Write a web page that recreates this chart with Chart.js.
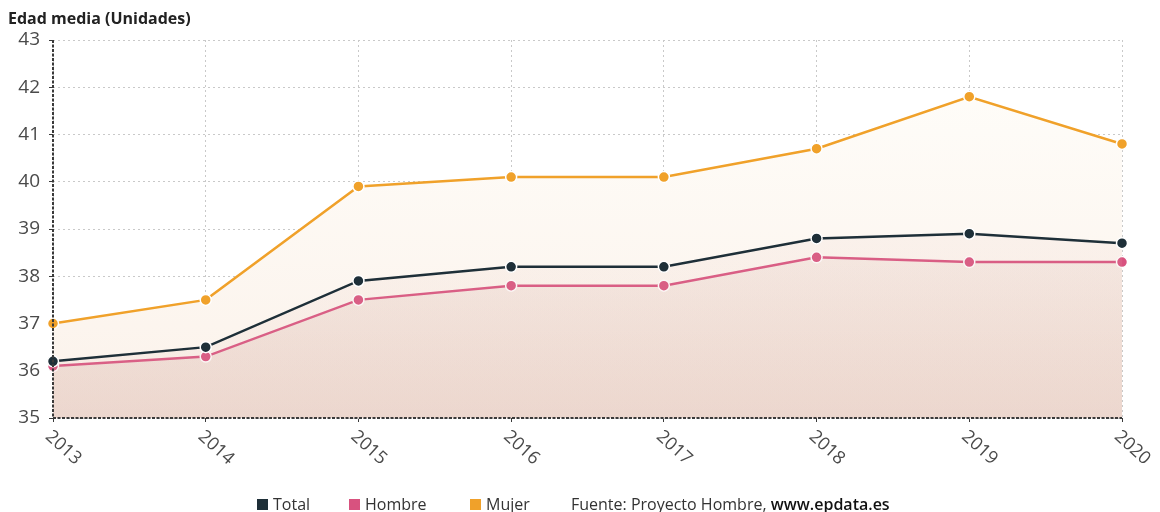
<!DOCTYPE html>
<html lang="es">
<head>
<meta charset="utf-8">
<title>Edad media (Unidades)</title>
<script src="https://cdn.jsdelivr.net/npm/chart.js@4/dist/chart.umd.min.js"></script>
<style>
  html, body { margin: 0; padding: 0; background: #fff; }
  body { width: 1160px; height: 512px; position: relative; overflow: hidden;
         font-family: "Open Sans", "DejaVu Sans", sans-serif; }
  #title { position: absolute; left: 8px; top: 7px; font-size: 16px; font-weight: 700; color: #222; }
  #wrap { position: absolute; left: 0; top: 0; width: 1160px; height: 512px; }
  #legend { position: absolute; top: 493px; left: 0; width: 1160px; height: 22px;
            font-size: 16px; color: #333; white-space: nowrap; }
  #legend .item { position: absolute; top: 0; display: flex; align-items: center; height: 22px; }
  #legend .sw { width: 11px; height: 11px; margin-right: 5px; }
  #legend b { font-weight: 600; color: #111; }
</style>
</head>
<body>
<div id="wrap"><canvas id="chart" width="1160" height="512"></canvas></div>
<div id="title">Edad media (Unidades)</div>
<div id="legend"></div>
<script>
// Average age of people in treatment, by year
const years = ['2013', '2014', '2015', '2016', '2017', '2018', '2019', '2020'];
const total  = [36.2, 36.5, 37.9, 38.2, 38.2, 38.8, 38.9, 38.7];
const hombre = [36.1, 36.3, 37.5, 37.8, 37.8, 38.4, 38.3, 38.3];
const mujer  = [37.0, 37.5, 39.9, 40.1, 40.1, 40.7, 41.8, 40.8];
const yTicks = [35, 36, 37, 38, 39, 40, 41, 42, 43];

const COLORS = { total: '#1e2f38', hombre: '#d8527f', mujer: '#f0a12a' };

// Layered washes under each series; they stack into a warmer tone near the base
function wash(stops) {
  return ctx => {
    const area = ctx.chart.chartArea;
    if (!area) return 'rgba(0,0,0,0)';
    const g = ctx.chart.ctx.createLinearGradient(0, area.top, 0, area.bottom);
    stops.forEach(([p, c]) => g.addColorStop(p, c));
    return g;
  };
}
const mujerWash  = wash([[0, '#fffefb'], [1, '#fbf2ea']]);
const totalWash  = wash([[0, 'rgba(225,185,175,0.08)'], [1, 'rgba(225,185,175,0.14)']]);
const hombreWash = wash([[0, 'rgba(215,180,170,0.0)'], [0.5, 'rgba(215,180,170,0.12)'], [1, 'rgba(215,180,170,0.36)']]);

// Axis lines and rotated year labels
const axisDecor = {
  id: 'axisDecor',
  afterDatasetsDraw(chart) {
    const { ctx, chartArea: a, scales: { x } } = chart;
    ctx.save();
    ctx.strokeStyle = '#3a3a3a';
    ctx.lineWidth = 2;
    ctx.setLineDash([3, 1.5]);
    ctx.beginPath();
    ctx.moveTo(a.left, a.top);
    ctx.lineTo(a.left, a.bottom);
    ctx.lineTo(a.right, a.bottom);
    ctx.stroke();
    ctx.setLineDash([]);
    ctx.font = '18px "Open Sans", "DejaVu Sans", sans-serif';
    ctx.fillStyle = '#4a4a4a';
    ctx.textAlign = 'left';
    ctx.textBaseline = 'middle';
    years.forEach((label, i) => {
      const px = x.getPixelForTick(i);
      ctx.save();
      ctx.translate(px - 5, a.bottom + 16);
      ctx.rotate(42 * Math.PI / 180);
      ctx.fillText(label, 0, 0);
      ctx.restore();
    });
    ctx.restore();
  }
};

function series(label, data, color, extra) {
  return Object.assign({
    label, data,
    borderColor: color,
    backgroundColor: color,
    borderWidth: 2.5,
    pointRadius: 5.5,
    pointHoverRadius: 6,
    pointBackgroundColor: color,
    pointBorderColor: '#ffffff',
    pointBorderWidth: 1.5,
    tension: 0,
    fill: 'start'
  }, extra || {});
}

new Chart(document.getElementById('chart'), {
  type: 'line',
  data: {
    labels: years,
    datasets: [
      series('Total', total, COLORS.total, { order: 1, backgroundColor: totalWash }),
      series('Hombre', hombre, COLORS.hombre, { order: 2, backgroundColor: hombreWash }),
      series('Mujer', mujer, COLORS.mujer, { order: 3, backgroundColor: mujerWash })
    ]
  },
  options: {
    responsive: false,
    animation: false,
    layout: { padding: { top: 40, right: 38, left: 0, bottom: 0 } },
    plugins: { legend: { display: false }, tooltip: { enabled: false } },
    scales: {
      x: {
        offset: false,
        afterFit(s) { s.height = 94; },
        grid: { color: '#c9c9c9', lineWidth: 1, drawTicks: true, tickLength: 4, tickColor: '#3a3a3a' },
        border: { display: false, dash: [2, 3] },
        ticks: { display: false }
      },
      y: {
        min: 35, max: 43,
        afterFit(s) { s.width = 53; },
        afterBuildTicks(s) { s.ticks = yTicks.map(v => ({ value: v })); },
        grid: { color: '#c9c9c9', lineWidth: 1, drawTicks: true, tickLength: 4, tickColor: '#3a3a3a' },
        border: { display: false, dash: [2, 3] },
        ticks: {
          padding: 9,
          color: '#4a4a4a',
          font: { family: '"Open Sans", "DejaVu Sans", sans-serif', size: 19 },
          callback: v => String(v)
        }
      }
    }
  },
  plugins: [axisDecor]
});

// Legend row with source note
const legend = document.getElementById('legend');
[['Total', COLORS.total, 257], ['Hombre', COLORS.hombre, 349], ['Mujer', COLORS.mujer, 470]].forEach(([name, c, left]) => {
  const item = document.createElement('div');
  item.className = 'item';
  item.style.left = left + 'px';
  const sw = document.createElement('span');
  sw.className = 'sw';
  sw.style.background = c;
  item.appendChild(sw);
  item.appendChild(document.createTextNode(name));
  legend.appendChild(item);
});
const src = document.createElement('div');
src.className = 'item';
src.style.left = '571px';
src.innerHTML = 'Fuente: Proyecto Hombre,&nbsp;<b>www.epdata.es</b>';
legend.appendChild(src);
</script>
</body>
</html>
